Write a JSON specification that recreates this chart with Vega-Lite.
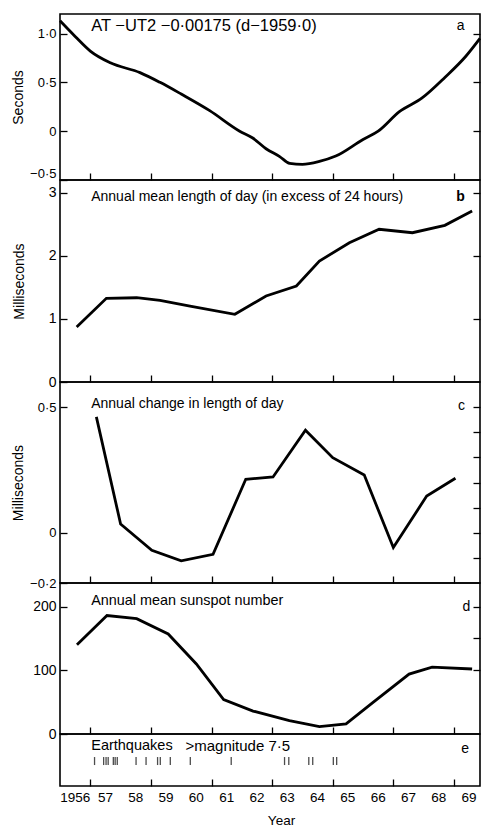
{
  "$schema": "https://vega.github.io/schema/vega-lite/v6.json",
  "padding": {"left": 10, "top": 13, "right": 0, "bottom": 0},
  "background": "white",
  "datasets": {
    "a": [
      {"year": 1956.0, "value": 1.13}, {"year": 1956.5, "value": 0.97}, {"year": 1957.0, "value": 0.82},
      {"year": 1957.66, "value": 0.7}, {"year": 1958.64, "value": 0.6}, {"year": 1959.3, "value": 0.5},
      {"year": 1960.0, "value": 0.38}, {"year": 1960.94, "value": 0.21}, {"year": 1961.93, "value": 0.0},
      {"year": 1962.36, "value": -0.07}, {"year": 1962.8, "value": -0.18}, {"year": 1963.25, "value": -0.26},
      {"year": 1963.58, "value": -0.33}, {"year": 1964.0, "value": -0.34}, {"year": 1964.56, "value": -0.31},
      {"year": 1965.1, "value": -0.255}, {"year": 1966.0, "value": -0.085}, {"year": 1966.5, "value": 0.0},
      {"year": 1967.2, "value": 0.2}, {"year": 1967.95, "value": 0.34}, {"year": 1968.7, "value": 0.55},
      {"year": 1969.4, "value": 0.77}, {"year": 1969.86, "value": 0.95}
    ],
    "b": [
      {"year": 1956.55, "value": 0.87}, {"year": 1957.53, "value": 1.325}, {"year": 1958.53, "value": 1.335},
      {"year": 1959.3, "value": 1.294}, {"year": 1960.29, "value": 1.203}, {"year": 1961.77, "value": 1.072},
      {"year": 1962.8, "value": 1.362}, {"year": 1963.8, "value": 1.52}, {"year": 1964.56, "value": 1.916},
      {"year": 1965.55, "value": 2.206}, {"year": 1966.53, "value": 2.419}, {"year": 1967.63, "value": 2.365},
      {"year": 1968.7, "value": 2.482}, {"year": 1969.6, "value": 2.709}
    ],
    "c": [
      {"year": 1957.2, "value": 0.461}, {"year": 1958.0, "value": 0.035}, {"year": 1959.03, "value": -0.07},
      {"year": 1960.0, "value": -0.112}, {"year": 1961.05, "value": -0.086}, {"year": 1962.13, "value": 0.213},
      {"year": 1963.03, "value": 0.222}, {"year": 1964.1, "value": 0.408}, {"year": 1965.0, "value": 0.299},
      {"year": 1966.04, "value": 0.23}, {"year": 1967.0, "value": -0.059}, {"year": 1968.1, "value": 0.146},
      {"year": 1969.05, "value": 0.217}
    ],
    "d": [
      {"year": 1956.56, "value": 140}, {"year": 1957.55, "value": 186}, {"year": 1958.53, "value": 181},
      {"year": 1959.57, "value": 157}, {"year": 1960.5, "value": 110}, {"year": 1961.4, "value": 54},
      {"year": 1962.37, "value": 36}, {"year": 1963.57, "value": 21}, {"year": 1964.56, "value": 11.5},
      {"year": 1965.44, "value": 16}, {"year": 1966.31, "value": 49}, {"year": 1967.52, "value": 94},
      {"year": 1968.28, "value": 105}, {"year": 1969.6, "value": 102}
    ],
    "quakes": [
      {"year": 1957.14}, {"year": 1957.44}, {"year": 1957.52}, {"year": 1957.59}, {"year": 1957.76},
      {"year": 1957.82}, {"year": 1957.89}, {"year": 1958.51}, {"year": 1958.84}, {"year": 1959.22},
      {"year": 1959.31}, {"year": 1959.64}, {"year": 1960.3}, {"year": 1961.65}, {"year": 1963.41},
      {"year": 1963.55}, {"year": 1964.21}, {"year": 1964.34}, {"year": 1965.02}, {"year": 1965.13}
    ],
    "years": [
      {"year": 1956.5, "label": "1956"}, {"year": 1957.5, "label": "57"}, {"year": 1958.5, "label": "58"},
      {"year": 1959.5, "label": "59"}, {"year": 1960.5, "label": "60"}, {"year": 1961.5, "label": "61"},
      {"year": 1962.5, "label": "62"}, {"year": 1963.5, "label": "63"}, {"year": 1964.5, "label": "64"},
      {"year": 1965.5, "label": "65"}, {"year": 1966.5, "label": "66"}, {"year": 1967.5, "label": "67"},
      {"year": 1968.5, "label": "68"}, {"year": 1969.5, "label": "69"}
    ]
  },
  "spacing": 0,
  "bounds": "flush",
  "vconcat": [
    {
      "width": 420, "height": 166,
      "resolve": {"scale": {"y": "independent"}},
      "layer": [
        {
          "data": {"name": "a"},
          "mark": {"type": "line", "interpolate": "monotone"},
          "encoding": {
            "x": {"field": "year", "type": "quantitative", "scale": {"domain": [1956, 1969.86], "nice": false, "zero": false},
                  "axis": {"values": [1957,1958,1959,1960,1961,1962,1963,1964,1965,1966,1967,1968,1969], "labels": false, "tickSize": -7, "title": null}},
            "y": {"field": "value", "type": "quantitative", "scale": {"domain": [-0.5, 1.2], "nice": false, "zero": false},
                  "axis": {"values": [-0.5, 0, 0.5, 1], "tickSize": -7, "labelPadding": 11, "title": "Seconds", "titlePadding": 4,
                           "labelBaseline": {"condition": {"test": "datum.value == -0.5", "value": "bottom"}, "value": "middle"},
                           "labelExpr": "datum.value == 0 ? '0' : replace(format(datum.value, '.1f'), '.', '·')"}}
          }
        },
        {
          "data": {"values": [{}]},
          "mark": {"type": "text", "align": "left", "baseline": "middle", "fontSize": 16.5},
          "encoding": {
            "x": {"datum": 1957.03},
            "y": {"datum": 1.077, "scale": {"domain": [-0.5, 1.2], "nice": false, "zero": false},
                  "axis": {"orient": "right", "values": [0, 0.5, 1], "labels": false, "tickSize": -7, "title": null}},
            "text": {"value": "AT −UT2 −0·00175 (d−1959·0)"}
          }
        },
        {
          "data": {"values": [{}]},
          "mark": {"type": "text", "align": "center", "baseline": "middle", "fontSize": 14},
          "encoding": {
            "x": {"datum": 1969.22},
            "y": {"datum": 1.077, "scale": {"domain": [-0.5, 1.2], "nice": false, "zero": false}, "axis": null},
            "text": {"value": "a"}
          }
        }
      ]
    },
    {
      "width": 420, "height": 202,
      "resolve": {"scale": {"y": "independent"}},
      "layer": [
        {
          "data": {"name": "b"},
          "mark": {"type": "line"},
          "encoding": {
            "x": {"field": "year", "type": "quantitative", "scale": {"domain": [1956, 1969.86], "nice": false, "zero": false},
                  "axis": {"values": [1957,1958,1959,1960,1961,1962,1963,1964,1965,1966,1967,1968,1969], "labels": false, "tickSize": -7, "title": null}},
            "y": {"field": "value", "type": "quantitative", "scale": {"domain": [0, 3.2], "nice": false, "zero": false},
                  "axis": {"values": [0, 1, 2, 3], "tickSize": -7, "labelPadding": 11, "title": "Milliseconds", "titlePadding": 22, "format": "d", "labelFontSize": 14}}
          }
        },
        {
          "data": {"values": [{}]},
          "mark": {"type": "text", "align": "left", "baseline": "middle", "fontSize": 14},
          "encoding": {
            "x": {"datum": 1957.03},
            "y": {"datum": 2.93, "scale": {"domain": [0, 3.2], "nice": false, "zero": false},
                  "axis": {"orient": "right", "values": [1, 2, 3], "labels": false, "tickSize": -7, "title": null}},
            "text": {"value": "Annual mean length of day (in excess of 24 hours)"}
          }
        },
        {
          "data": {"values": [{}]},
          "mark": {"type": "text", "align": "center", "baseline": "middle", "fontSize": 14, "fontWeight": "bold"},
          "encoding": {
            "x": {"datum": 1969.22},
            "y": {"datum": 2.93, "scale": {"domain": [0, 3.2], "nice": false, "zero": false}, "axis": null},
            "text": {"value": "b"}
          }
        }
      ]
    },
    {
      "width": 420, "height": 201,
      "resolve": {"scale": {"y": "independent"}},
      "layer": [
        {
          "data": {"name": "c"},
          "mark": {"type": "line"},
          "encoding": {
            "x": {"field": "year", "type": "quantitative", "scale": {"domain": [1956, 1969.86], "nice": false, "zero": false},
                  "axis": {"values": [1957,1958,1959,1960,1961,1962,1963,1964,1965,1966,1967,1968,1969], "labels": false, "tickSize": -7, "title": null}},
            "y": {"field": "value", "type": "quantitative", "scale": {"domain": [-0.2, 0.6], "nice": false, "zero": false},
                  "axis": {"values": [-0.2, 0, 0.5], "tickSize": -7, "labelPadding": 11, "title": "Milliseconds", "titlePadding": 4,
                           "labelExpr": "datum.value == 0 ? '0' : replace(format(datum.value, '.1f'), '.', '·')"}}
          }
        },
        {
          "data": {"values": [{}]},
          "mark": {"type": "text", "align": "left", "baseline": "middle", "fontSize": 14},
          "encoding": {
            "x": {"datum": 1957.03},
            "y": {"datum": 0.513, "scale": {"domain": [-0.2, 0.6], "nice": false, "zero": false},
                  "axis": {"orient": "right", "values": [-0.1, 0, 0.1, 0.2, 0.3, 0.4, 0.5], "labels": false, "tickSize": -7, "title": null}},
            "text": {"value": "Annual change in length of day"}
          }
        },
        {
          "data": {"values": [{}]},
          "mark": {"type": "text", "align": "center", "baseline": "middle", "fontSize": 14},
          "encoding": {
            "x": {"datum": 1969.25},
            "y": {"datum": 0.505, "scale": {"domain": [-0.2, 0.6], "nice": false, "zero": false}, "axis": null},
            "text": {"value": "c"}
          }
        }
      ]
    },
    {
      "width": 420, "height": 151,
      "resolve": {"scale": {"y": "independent"}},
      "layer": [
        {
          "data": {"name": "d"},
          "mark": {"type": "line"},
          "encoding": {
            "x": {"field": "year", "type": "quantitative", "scale": {"domain": [1956, 1969.86], "nice": false, "zero": false},
                  "axis": {"values": [1957,1958,1959,1960,1961,1962,1963,1964,1965,1966,1967,1968,1969], "labels": false, "tickSize": -7, "title": null}},
            "y": {"field": "value", "type": "quantitative", "scale": {"domain": [0, 237], "nice": false, "zero": false},
                  "axis": {"values": [0, 100, 200], "tickSize": -7, "labelPadding": 11, "title": null, "format": "d", "labelFontSize": 14}}
          }
        },
        {
          "data": {"values": [{}]},
          "mark": {"type": "text", "align": "left", "baseline": "middle", "fontSize": 14.4},
          "encoding": {
            "x": {"datum": 1957.03},
            "y": {"datum": 209, "scale": {"domain": [0, 237], "nice": false, "zero": false},
                  "axis": {"orient": "right", "values": [100, 150, 200], "labels": false, "tickSize": -7, "title": null}},
            "text": {"value": "Annual mean sunspot number"}
          }
        },
        {
          "data": {"values": [{}]},
          "mark": {"type": "text", "align": "center", "baseline": "middle", "fontSize": 14},
          "encoding": {
            "x": {"datum": 1969.41},
            "y": {"datum": 200, "scale": {"domain": [0, 237], "nice": false, "zero": false}, "axis": null},
            "text": {"value": "d"}
          }
        }
      ]
    },
    {
      "width": 420, "height": 52,
      "layer": [
        {
          "data": {"name": "quakes"},
          "mark": {"type": "tick", "orient": "vertical", "size": 8, "thickness": 1.3, "color": "black"},
          "encoding": {
            "x": {"field": "year", "type": "quantitative", "scale": {"domain": [1956, 1969.86], "nice": false, "zero": false},
                  "axis": {"values": [1957,1958,1959,1960,1961,1962,1963,1964,1965,1966,1967,1968,1969], "tickSize": -7,
                           "labels": false, "title": null}},
            "y": {"datum": 0.48, "scale": {"domain": [0, 1], "nice": false, "zero": false}, "axis": null}
          }
        },
        {
          "data": {"name": "years"},
          "mark": {"type": "text", "align": "center", "baseline": "middle", "fontSize": 13.5},
          "encoding": {
            "x": {"field": "year", "type": "quantitative"},
            "y": {"datum": -0.23},
            "text": {"field": "label"}
          }
        },
        {
          "data": {"values": [{}]},
          "mark": {"type": "text", "align": "center", "baseline": "middle", "fontSize": 13.5},
          "encoding": {
            "x": {"datum": 1963.31},
            "y": {"datum": -0.67},
            "text": {"value": "Year"}
          }
        },
        {
          "data": {"values": [{}]},
          "mark": {"type": "text", "align": "left", "baseline": "middle", "fontSize": 14.5},
          "encoding": {
            "x": {"datum": 1957.03},
            "y": {"datum": 0.77},
            "text": {"value": "Earthquakes"}
          }
        },
        {
          "data": {"values": [{}]},
          "mark": {"type": "text", "align": "left", "baseline": "middle", "fontSize": 15},
          "encoding": {
            "x": {"datum": 1960.14},
            "y": {"datum": 0.77},
            "text": {"value": ">magnitude 7·5"}
          }
        },
        {
          "data": {"values": [{}]},
          "mark": {"type": "text", "align": "center", "baseline": "middle", "fontSize": 14},
          "encoding": {
            "x": {"datum": 1969.37},
            "y": {"datum": 0.71},
            "text": {"value": "e"}
          }
        }
      ]
    }
  ],
  "config": {
    "view": {"stroke": "black", "strokeWidth": 1.6},
    "axis": {
      "labelFont": "Liberation Sans", "titleFont": "Liberation Sans", "labelFontSize": 13, "titleFontSize": 14,
      "labelColor": "black", "titleColor": "black", "tickColor": "black", "tickWidth": 1.3, "grid": false, "domain": false,
      "titleFontWeight": "normal", "labelFlush": false, "labelOverlap": false, "labelBound": false
    },
    "text": {"font": "Liberation Sans", "fontSize": 13, "color": "black"},
    "line": {"color": "black", "strokeWidth": 2.8},
    "tick": {"color": "black"}
  }
}
